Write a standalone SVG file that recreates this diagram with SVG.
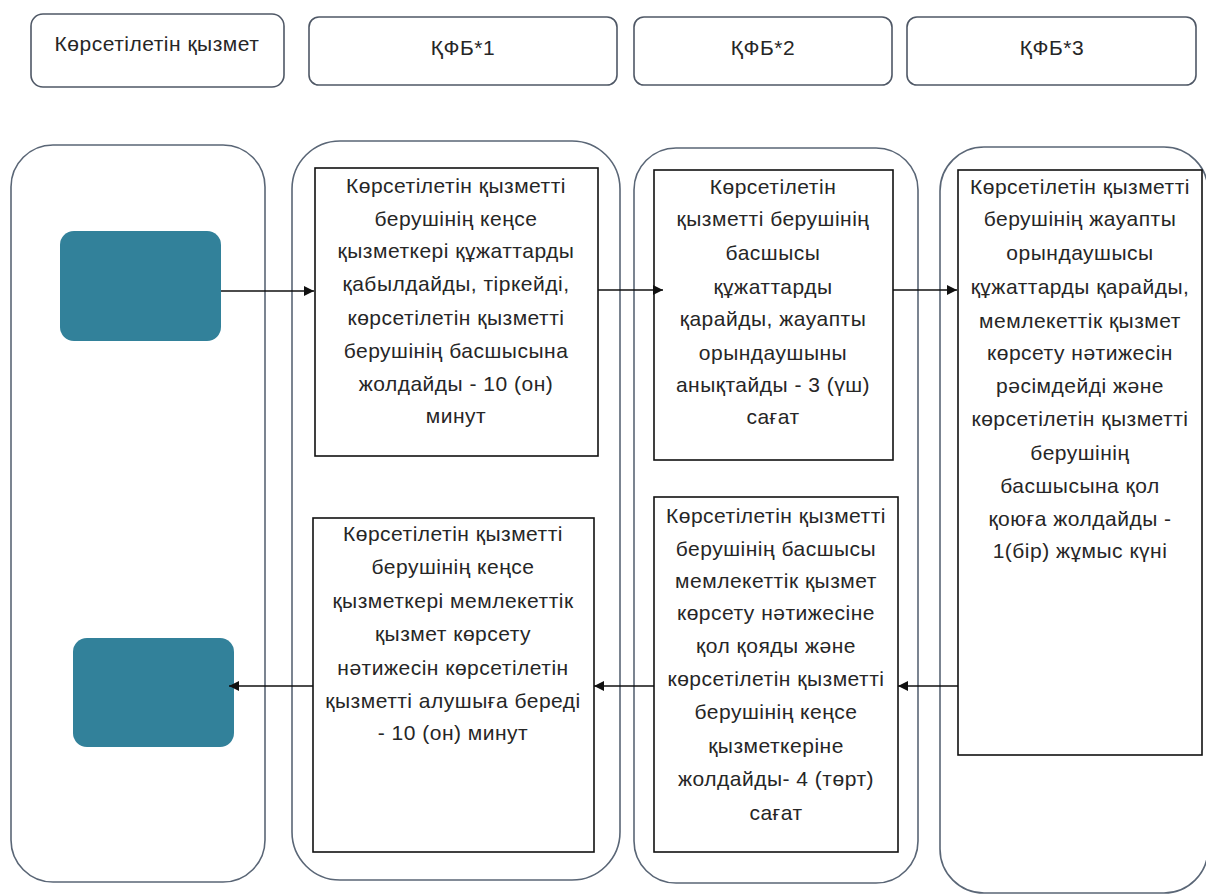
<svg xmlns="http://www.w3.org/2000/svg" width="1206" height="895" viewBox="0 0 1206 895">
<defs>
<style>
.hdr{fill:#fff;stroke:#4f5866;stroke-width:1.6}
.lane{fill:#fff;stroke:#5a6676;stroke-width:1.6}
.box{fill:#fff;stroke:#111;stroke-width:1.6}
.teal{fill:#32819a}
text{font-family:"Liberation Sans",Arial,sans-serif;font-size:21px;letter-spacing:0.5px;fill:#262626;text-anchor:middle;dominant-baseline:central}
.con{stroke:#111;stroke-width:1.5;fill:none;marker-end:url(#ah)}
</style>
<marker id="ah" viewBox="0 0 10 10" refX="10" refY="5" markerWidth="10" markerHeight="10" markerUnits="userSpaceOnUse" orient="auto">
<path d="M0,0 L10,5 L0,10 z" fill="#111"/>
</marker>
</defs>
<rect width="1206" height="895" fill="#fff"/>

<g id="header-service"><rect class="hdr" x="31" y="14" width="253" height="73" rx="12"/><text x="157" y="43">Көрсетілетін қызмет</text></g>
<g id="header-kfb1"><rect class="hdr" x="309" y="17" width="308" height="68" rx="10"/><text x="463" y="47">ҚФБ*1</text></g>
<g id="header-kfb2"><rect class="hdr" x="634" y="17" width="258" height="68" rx="10"/><text x="763" y="47">ҚФБ*2</text></g>
<g id="header-kfb3"><rect class="hdr" x="907" y="17" width="289" height="68" rx="10"/><text x="1052" y="47">ҚФБ*3</text></g>

<g id="lane-service"><rect class="lane" x="11" y="145" width="254" height="737" rx="42"/></g>
<g id="lane-kfb1"><rect class="lane" x="292" y="141" width="328" height="739" rx="48"/></g>
<g id="lane-kfb2"><rect class="lane" x="634" y="148" width="284" height="735" rx="42"/></g>
<g id="lane-kfb3"><rect class="lane" x="940" y="147" width="268" height="746" rx="44"/></g>

<g id="start"><rect class="teal" x="60" y="231" width="161" height="110" rx="14"/></g>
<g id="end"><rect class="teal" x="73" y="638" width="161" height="109" rx="14"/></g>

<g id="step1">
<rect class="box" x="315" y="168" width="283" height="288"/>
<text x="456" y="185">Көрсетілетін қызметті</text>
<text x="456" y="218">берушінің кеңсе</text>
<text x="456" y="250">қызметкері құжаттарды</text>
<text x="456" y="283">қабылдайды, тіркейді,</text>
<text x="456" y="317">көрсетілетін қызметті</text>
<text x="456" y="350">берушінің басшысына</text>
<text x="456" y="383">жолдайды - 10 (он)</text>
<text x="456" y="415">минут</text>
</g>

<g id="step2">
<rect class="box" x="654" y="170" width="239" height="290"/>
<text x="773" y="186">Көрсетілетін</text>
<text x="773" y="218">қызметті берушінің</text>
<text x="773" y="252">басшысы</text>
<text x="773" y="286">құжаттарды</text>
<text x="773" y="318">қарайды, жауапты</text>
<text x="773" y="352">орындаушыны</text>
<text x="773" y="384">анықтайды - 3 (үш)</text>
<text x="773" y="416">сағат</text>
</g>

<g id="step3">
<rect class="box" x="958" y="170" width="244" height="585"/>
<text x="1080" y="186">Көрсетілетін қызметті</text>
<text x="1080" y="218">берушінің жауапты</text>
<text x="1080" y="252">орындаушысы</text>
<text x="1080" y="286">құжаттарды қарайды,</text>
<text x="1080" y="320">мемлекеттік қызмет</text>
<text x="1080" y="352">көрсету нәтижесін</text>
<text x="1080" y="385">рәсімдейді және</text>
<text x="1080" y="418">көрсетілетін қызметті</text>
<text x="1080" y="452">берушінің</text>
<text x="1080" y="485">басшысына қол</text>
<text x="1080" y="518">қоюға жолдайды -</text>
<text x="1080" y="550">1(бір) жұмыс күні</text>
</g>

<g id="step4">
<rect class="box" x="654" y="497" width="244" height="355"/>
<text x="776" y="515">Көрсетілетін қызметті</text>
<text x="776" y="548">берушінің басшысы</text>
<text x="776" y="580">мемлекеттік қызмет</text>
<text x="776" y="612">көрсету нәтижесіне</text>
<text x="776" y="645">қол қояды және</text>
<text x="776" y="678">көрсетілетін қызметті</text>
<text x="776" y="711">берушінің кеңсе</text>
<text x="776" y="745">қызметкеріне</text>
<text x="776" y="778">жолдайды- 4 (төрт)</text>
<text x="776" y="812">сағат</text>
</g>

<g id="step5">
<rect class="box" x="313" y="518" width="281" height="334"/>
<text x="453" y="533">Көрсетілетін қызметті</text>
<text x="453" y="566">берушінің кеңсе</text>
<text x="453" y="600">қызметкері мемлекеттік</text>
<text x="453" y="633">қызмет көрсету</text>
<text x="453" y="667">нәтижесін көрсетілетін</text>
<text x="453" y="700">қызметті алушыға береді</text>
<text x="453" y="732">- 10 (он) минут</text>
</g>

<g id="connectors">
<line class="con" x1="221" y1="291" x2="314" y2="291"/>
<line class="con" x1="598" y1="290" x2="663" y2="290"/>
<line class="con" x1="893" y1="290" x2="957" y2="290"/>
<line class="con" x1="958" y1="686" x2="898" y2="686"/>
<line class="con" x1="654" y1="686" x2="594" y2="686"/>
<line class="con" x1="313" y1="686" x2="229" y2="686"/>
</g>
</svg>
